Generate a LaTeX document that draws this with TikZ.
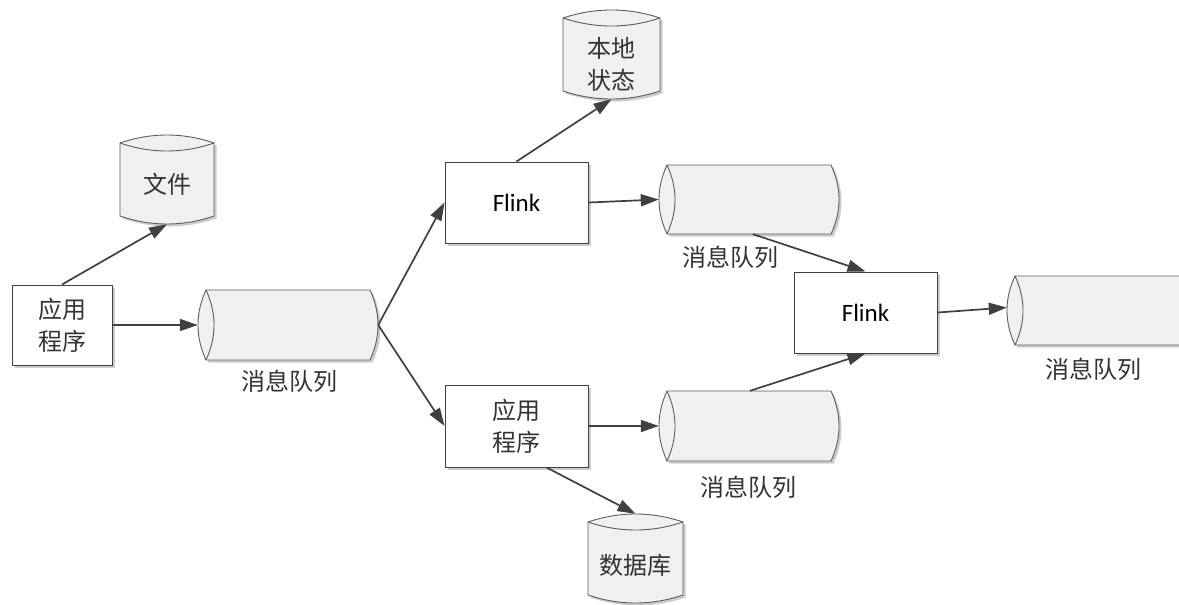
\documentclass[tikz,border=0pt]{standalone}
\usepackage{fontspec}
\setmainfont{Carlito}
\newfontfamily\cjk{Noto Sans CJK SC}
\usetikzlibrary{arrows.meta}
\definecolor{linec}{HTML}{404040}
\definecolor{cylfill}{HTML}{F0F0F0}
\definecolor{shadowc}{HTML}{CCCCCC}
\tikzset{
  cylline/.style={draw=linec!85, line width=0.9pt},
  boxstyle/.style={draw=linec, line width=1pt, fill=white, inner sep=0pt},
  conn/.style={draw=linec, line width=1.7pt, -{Triangle[length=18pt,width=12pt]}},
  cn/.style={font={\cjk\fontsize{24}{32}\selectfont}, align=center, text=black!80, inner sep=0pt},
  en/.style={font={\fontsize{25}{30}\selectfont}, text=black, inner sep=0pt},
  hole/.style={inner sep=0pt, draw=none}
}
% vertical cylinder: name, x1, x2, ytop corner, ybot corner (bump 8)
\newcommand\vcyl[5]{%
  \pgfmathsetmacro\cwa{#2+(#3-#2)/3}%
  \pgfmathsetmacro\cwb{#2+2*(#3-#2)/3}%
  \begin{scope}[shift={(2.5,2.5)}]
  \fill[shadowc] (#2,#4) .. controls (\cwa,#4-10.7) and (\cwb,#4-10.7) .. (#3,#4) -- (#3,#5) .. controls (\cwb,#5+10.7) and (\cwa,#5+10.7) .. (#2,#5) -- cycle;
  \end{scope}
  \path[cylline, fill=cylfill] (#2,#4) .. controls (\cwa,#4-10.7) and (\cwb,#4-10.7) .. (#3,#4) -- (#3,#5) .. controls (\cwb,#5+10.7) and (\cwa,#5+10.7) .. (#2,#5) -- cycle;
  \path[cylline] (#2,#4) .. controls (\cwa,#4+10.7) and (\cwb,#4+10.7) .. (#3,#4);
  \pgfmathsetmacro\cwx{(#2+#3)/2}%
  \pgfmathsetmacro\cwy{(#4+#5)/2}%
  \pgfmathsetmacro\cww{#3-#2}%
  \pgfmathsetmacro\cwh{#5-#4+16}%
  \node[hole, minimum width=\cww pt, minimum height=\cwh pt] (#1) at (\cwx,\cwy) {};
}
% horizontal cylinder: name, x1 (lens tip), x2 (end tip), ytop, ybot (bump 8)
\newcommand\hcyl[5]{%
  \pgfmathsetmacro\cha{#4+(#5-#4)/3}%
  \pgfmathsetmacro\chb{#4+2*(#5-#4)/3}%
  \begin{scope}[shift={(2.5,2.5)}]
  \fill[shadowc] (#2+8,#4) -- (#3-8,#4) .. controls (#3+2.7,\cha) and (#3+2.7,\chb) .. (#3-8,#5) -- (#2+8,#5) .. controls (#2-2.7,\chb) and (#2-2.7,\cha) .. (#2+8,#4) -- cycle;
  \end{scope}
  \path[cylline, fill=cylfill] (#2+8,#4) -- (#3-8,#4) .. controls (#3+2.7,\cha) and (#3+2.7,\chb) .. (#3-8,#5) -- (#2+8,#5) .. controls (#2-2.7,\chb) and (#2-2.7,\cha) .. (#2+8,#4) -- cycle;
  \path[cylline] (#2+8,#4) .. controls (#2+18.7,\cha) and (#2+18.7,\chb) .. (#2+8,#5);
  \pgfmathsetmacro\chx{(#2+#3)/2}%
  \pgfmathsetmacro\chy{(#4+#5)/2}%
  \pgfmathsetmacro\chw{#3-#2}%
  \pgfmathsetmacro\chh{#5-#4}%
  \node[hole, minimum width=\chw pt, minimum height=\chh pt] (#1) at (\chx,\chy) {};
}
% box: name, x1, x2, y1, y2, text style, text
\newcommand\bx[7]{%
  \fill[shadowc] (#2+2.5,#4+2.5) rectangle (#3+2.5,#5+2.5);
  \pgfmathsetmacro\bxx{(#2+#3)/2}%
  \pgfmathsetmacro\bxy{(#4+#5)/2}%
  \pgfmathsetmacro\bxw{#3-#2}%
  \pgfmathsetmacro\bxh{#5-#4}%
  \node[boxstyle, minimum width=\bxw pt, minimum height=\bxh pt] (#1) at (\bxx,\bxy) {};
  \node[#6] at (\bxx,\bxy) {#7};
}
\begin{document}
\begin{tikzpicture}[x=1pt, y=-1pt]
\clip (0,0) rectangle (1179,605);
\fill[white] (0,0) rectangle (1179,605);

% boxes
\bx{app1}{12}{112}{285}{365}{cn}{应用\\程序}
\bx{flink1}{445}{588}{162}{243}{en}{Flink}
\bx{app2}{445}{588}{385}{467}{cn}{应用\\程序}
\bx{flink2}{794}{937}{272}{353}{en}{Flink}

% vertical cylinders
\vcyl{file}{120}{214}{143}{216}
\node[cn] at (167,184) {文件};
\vcyl{state}{563}{660}{18}{91}
\node[cn] at (611.5,64) {本地\\状态};
\vcyl{db}{588}{683}{522}{595}
\node[cn] at (635.5,565) {数据库};

% horizontal cylinders
\hcyl{q1}{198}{378}{290}{360}
\node[cn] at (289,381) {消息队列};
\hcyl{q2}{659}{839}{165}{234}
\node[cn] at (730,257) {消息队列};
\hcyl{q4}{659}{839}{391}{461}
\node[cn] at (748,487) {消息队列};
\hcyl{q3}{1007}{1215}{276}{345}
\node[cn] at (1093,369) {消息队列};

% connectors
\draw[conn] (app1.north) -- (file.south);
\draw[conn] (app1.east) -- (q1.west);
\draw[conn] (q1.east) -- (flink1.west);
\draw[conn] (q1.east) -- (app2.west);
\draw[conn] (flink1.north) -- (state.south);
\draw[conn] (flink1.east) -- (q2.west);
\draw[conn] (app2.east) -- (q4.west);
\draw[conn] ([xshift=30pt]app2.south) -- (db.north);
\draw[conn] ([xshift=4pt]q2.south) -- (flink2.north);
\draw[conn] ([xshift=1pt]q4.north) -- (flink2.south);
\draw[conn] (flink2.east) -- ([yshift=3pt]q3.west);
\end{tikzpicture}
\end{document}
